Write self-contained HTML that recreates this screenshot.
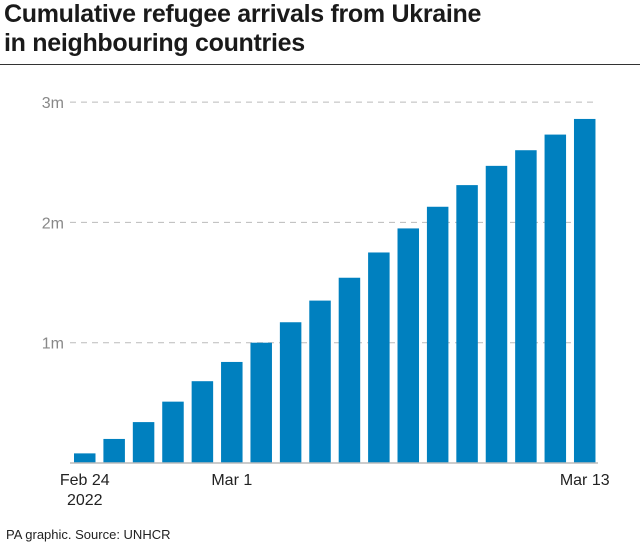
<!DOCTYPE html>
<html><head><meta charset="utf-8"><style>
body{margin:0;background:#fff;font-family:"Liberation Sans",sans-serif;}
</style></head><body>
<div style="position:relative;width:640px;height:550px;overflow:hidden">
<div style="position:absolute;left:4px;top:0px;font-size:25px;font-weight:bold;line-height:29px;color:#1a1a1a;letter-spacing:-0.3px">Cumulative refugee arrivals from Ukraine<br>in neighbouring countries</div>
<div style="position:absolute;left:0;top:64px;width:640px;height:1px;background:#333"></div>
<svg id="c" width="640" height="550" style="position:absolute;left:0;top:0"></svg>
<div style="position:absolute;left:6px;top:527px;font-size:13px;color:#222">PA graphic. Source: UNHCR</div>
</div>
<script>
const categories=["Feb 24","Feb 25","Feb 26","Feb 27","Feb 28","Mar 1","Mar 2","Mar 3","Mar 4","Mar 5","Mar 6","Mar 7","Mar 8","Mar 9","Mar 10","Mar 11","Mar 12","Mar 13"];
const values=[0.08,0.2,0.34,0.51,0.68,0.84,1.0,1.17,1.35,1.54,1.75,1.95,2.13,2.31,2.47,2.6,2.73,2.86];
const yTicks=[1,2,3];
const yTickLabels=["1m","2m","3m"];
const xLabels=[[0,"Feb 24"],[5,"Mar 1"],[17,"Mar 13"]];
const NS="http://www.w3.org/2000/svg",svg=document.getElementById('c');
const y0=463,pxPer=120.3,x0=74,step=29.41,bw=21.5;
const yS=v=>y0-v*pxPer, xS=i=>x0+i*step;
function el(t,a){const e=document.createElementNS(NS,t);for(const k in a)e.setAttribute(k,a[k]);svg.appendChild(e);return e;}
yTicks.forEach((t,i)=>{
 const g=el('line',{x1:70,x2:598,y1:yS(t),y2:yS(t),stroke:'#bbb','stroke-dasharray':'6,5','stroke-width':1});
 
 
 const tx=el('text',{x:64,y:yS(t)+6,'text-anchor':'end','font-size':16,fill:'#888','font-family':'Liberation Sans'});
 tx.textContent=yTickLabels[i];
 
 
});
values.forEach((v,i)=>{
 const r=el('rect',{x:xS(i),y:yS(v),width:bw,height:y0-yS(v),fill:'#0080bf'});
 
 
});
const b=el('line',{x1:70,x2:598,y1:y0,y2:y0,stroke:'#bbb','stroke-width':1.5});


xLabels.forEach(([i,l])=>{
 const t=el('text',{x:xS(i)+bw/2,y:485,'text-anchor':'middle','font-size':16,fill:'#222','font-family':'Liberation Sans'});
 t.textContent=l;
 
 
});
const yr=el('text',{x:xS(0)+bw/2,y:505,'text-anchor':'middle','font-size':16,fill:'#222','font-family':'Liberation Sans'});
yr.textContent="2022";


</script>
</body></html>
